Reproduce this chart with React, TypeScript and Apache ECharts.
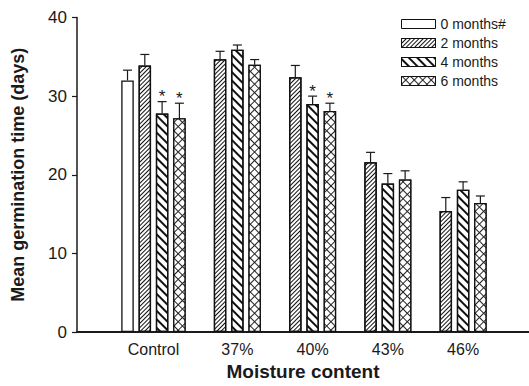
import React, { useEffect, useRef } from "react";
import * as echarts from "echarts";

const categories = ["Control", "37%", "40%", "43%", "46%"];
const seriesNames = ["0 months#", "2 months", "4 months", "6 months"];

const months0 = [32.0, null, null, null, null];
const months2 = [33.9, 34.7, 32.4, 21.6, 15.4];
const months4 = [27.8, 35.9, 29.0, 18.9, 18.1];
const months6 = [27.2, 34.0, 28.1, 19.4, 16.4];

const err0 = [1.3, null, null, null, null];
const err2 = [1.4, 1.0, 1.5, 1.25, 1.7];
const err4 = [1.5, 0.6, 1.0, 1.25, 1.0];
const err6 = [1.9, 0.65, 1.0, 1.1, 0.9];

const sig0 = [false, false, false, false, false];
const sig2 = [false, false, false, false, false];
const sig4 = [true, false, true, false, false];
const sig6 = [true, false, true, false, false];

const yTicks = [0, 10, 20, 30, 40];

const FONT = "Liberation Sans, Arial, sans-serif";
const INK = "#1a1a1a";

export default function App() {
  const ref = useRef<HTMLDivElement>(null);

  useEffect(() => {
    if (!ref.current) return;
    const chart = echarts.init(ref.current, undefined, { renderer: "svg" });

    const values = [months0, months2, months4, months6];
    const errs = [err0, err2, err4, err6];
    const sigs = [sig0, sig2, sig4, sig6];

    // layout of bar slots along a value axis (slot units)
    const GROUP_GAP = 2.35;
    const positions: (number | null)[][] = values.map(() => categories.map(() => null));
    const labelPos: number[] = [];
    let cursor = 0;
    categories.forEach((_, ci) => {
      const present: number[] = [];
      values.forEach((vals, si) => {
        if (vals[ci] != null) {
          positions[si][ci] = cursor;
          present.push(cursor);
          cursor += 1;
        }
      });
      labelPos.push((present[0] + present[present.length - 1]) / 2);
      cursor = present[present.length - 1] + GROUP_GAP;
    });

    const decals: any[] = [
      null,
      { symbol: "rect", color: "#111", dashArrayX: [1, 0], dashArrayY: [1, 1.5], rotation: -Math.PI / 4 },
      { symbol: "rect", color: "#111", dashArrayX: [1, 0], dashArrayY: [1.3, 3.8], rotation: Math.PI / 4 },
      { symbol: "rect", color: "#fff", dashArrayX: [4.3, 0.9], dashArrayY: [4.3, 0.9], rotation: Math.PI / 4 },
    ];
    const fills = ["#fff", "#fff", "#fff", "#222"];

    const barSeries = values.map((vals, si) => ({
      name: seriesNames[si],
      type: "bar",
      barWidth: 12.5,
      barGap: "-100%",
      itemStyle: {
        color: fills[si],
        borderColor: "#111",
        borderWidth: 1.3,
        decal: decals[si] || "none",
      },
      data: vals
        .map((v, ci) => (v == null ? null : [positions[si][ci], v]))
        .filter((d) => d != null),
    }));

    const errData: number[][] = [];
    values.forEach((vals, si) => {
      vals.forEach((v, ci) => {
        if (v != null) {
          errData.push([positions[si][ci] as number, v, errs[si][ci] as number, sigs[si][ci] ? 1 : 0]);
        }
      });
    });

    const errSeries = {
      type: "custom",
      silent: true,
      z: 5,
      encode: { x: 0, y: 1 },
      data: errData,
      renderItem: (params: any, api: any) => {
        const x = api.value(0);
        const m = api.value(1);
        const e = api.value(2);
        const s = api.value(3);
        const base = api.coord([x, m]);
        const top = api.coord([x, m + e]);
        const children: any[] = [
          {
            type: "line",
            shape: { x1: base[0], y1: base[1], x2: top[0], y2: top[1] },
            style: { stroke: INK, lineWidth: 1.2 },
          },
          {
            type: "line",
            shape: { x1: top[0] - 4.5, y1: top[1], x2: top[0] + 4.5, y2: top[1] },
            style: { stroke: INK, lineWidth: 1.2 },
          },
        ];
        if (s) {
          children.push({
            type: "text",
            x: top[0],
            y: top[1] - 5,
            style: {
              text: "*",
              fontSize: 17,
              fontFamily: FONT,
              fill: INK,
              align: "center",
              verticalAlign: "middle",
            },
          });
        }
        return { type: "group", children };
      },
    };

    const nameAt = (val: number) => {
      let best = 0;
      labelPos.forEach((p, i) => {
        if (Math.abs(p - val) < Math.abs(labelPos[best] - val)) best = i;
      });
      return categories[best];
    };

    chart.setOption({
      animation: false,
      backgroundColor: "#fff",
      textStyle: { fontFamily: FONT },
      grid: { left: 77, right: 0, top: 17.5, bottom: 54, containLabel: false },
      legend: {
        orient: "vertical",
        left: 396,
        top: 12,
        icon: "rect",
        itemWidth: 34,
        itemHeight: 9,
        itemGap: 5,
        data: seriesNames,
        textStyle: { fontFamily: FONT, fontSize: 14, color: INK },
        itemStyle: { borderColor: "#111", borderWidth: 1 },
      },
      xAxis: {
        type: "value",
        min: -2.92,
        max: 23.21,
        splitLine: { show: false },
        axisLine: { show: true, onZero: true, lineStyle: { color: INK, width: 2 } },
        axisTick: { show: false },
        axisLabel: {
          customValues: labelPos,
          formatter: (v: number) => nameAt(v),
          fontFamily: FONT,
          fontSize: 16,
          color: INK,
          margin: 9,
        },
        name: "Moisture content",
        nameLocation: "middle",
        nameGap: 30,
        nameTextStyle: { fontFamily: FONT, fontSize: 19, fontWeight: "bold", color: INK },
      },
      yAxis: {
        type: "value",
        min: 0,
        max: 40,
        interval: 10,
        splitLine: { show: false },
        axisLine: { show: true, onZero: false, lineStyle: { color: INK, width: 1.5 } },
        axisTick: { show: true, length: 5, inside: false, lineStyle: { color: INK, width: 1.2 } },
        axisLabel: {
          customValues: yTicks,
          fontFamily: FONT,
          fontSize: 17,
          color: INK,
          margin: 10,
        },
        name: "Mean germination time (days)",
        nameLocation: "middle",
        nameGap: 50,
        nameTextStyle: { fontFamily: FONT, fontSize: 18, fontWeight: "bold", color: INK },
      },
      series: [...barSeries, errSeries],
    });

    return () => chart.dispose();
  }, []);

  return <div ref={ref} style={{ width: 529, height: 386, position: "absolute", left: 0, top: 0 }} />;
}
